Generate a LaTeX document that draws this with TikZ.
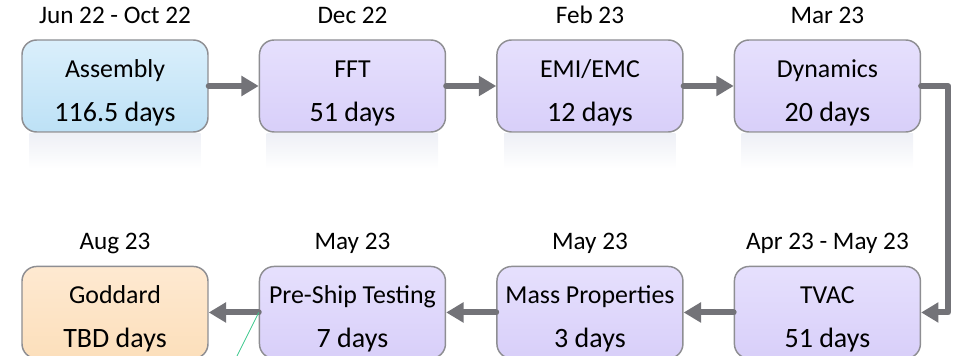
\documentclass[tikz,border=0pt]{standalone}
\usepackage{fontspec}
\setmainfont{Carlito}
\usetikzlibrary{positioning}
\usetikzlibrary{arrows.meta}
\definecolor{arrowgray}{HTML}{737378}
\definecolor{framegray}{HTML}{8E8E92}
\definecolor{bluetop}{HTML}{DAEFFB}
\definecolor{bluebot}{HTML}{BDE1F6}
\definecolor{violettop}{HTML}{E6E0FD}
\definecolor{violetbot}{HTML}{D8CFF9}
\definecolor{orangetop}{HTML}{FEE9D1}
\definecolor{orangebot}{HTML}{FCDFBB}
\definecolor{glowtop}{HTML}{EEF0F6}
\definecolor{stray}{HTML}{3CC88C}
\tikzset{
	stage/.style={
		rectangle,
		draw=framegray,
		line width=1.1pt,
		rounded corners=11pt,
		minimum width=139.5pt,
		minimum height=69pt,
		align=center,
		inner sep=0pt,
		font=\fontsize{19.4}{30}\selectfont
	},
	assembly/.style={stage, top color=bluetop, bottom color=bluebot},
	testing/.style={stage, top color=violettop, bottom color=violetbot},
	delivery/.style={stage, top color=orangetop, bottom color=orangebot},
	date/.style={anchor=base, inner sep=0pt, font=\fontsize{18.9}{20}\selectfont},
	flow/.style={draw=arrowgray, line width=4.5pt, line cap=round, line join=round, -{Triangle[length=13pt,width=14.5pt]}},
	glow/.style={top color=glowtop, bottom color=white, draw=none}
}
\newcommand{\stagetext}[2]{\rule{0pt}{23pt}#1\\[3pt]{\fontsize{21}{30}\selectfont #2}}
\begin{document}
\begin{tikzpicture}[node distance=99.75pt and 37.5pt]
	\useasboundingbox (-86.25pt,-202.5pt) rectangle (630.75pt,64.5pt);

	% top row
	\node[assembly] (Assembly) at (0,0) {\stagetext{Assembly}{116.5 days}};
	\node[testing, right=of Assembly] (FFT) {\stagetext{FFT}{51 days}};
	\node[testing, right=of FFT] (EMI) {\stagetext{EMI/EMC}{12 days}};
	\node[testing, right=of EMI] (Dynamics) {\stagetext{Dynamics}{20 days}};

	% bottom row
	\node[testing, below=of Dynamics] (TVAC) {\stagetext{TVAC}{51 days}};
	\node[testing, left=of TVAC] (Mass) {\stagetext{Mass Properties}{3 days}};
	\node[testing, left=of Mass] (PreShip) {\stagetext{Pre-Ship Testing}{7 days}};
	\node[delivery, left=of PreShip] (Goddard) {\stagetext{Goddard}{TBD days}};

	\foreach \n in {Assembly,FFT,EMI,Dynamics}
		\shade[glow] ([xshift=6pt,yshift=-0.6pt]\n.south west) rectangle ([xshift=-6pt,yshift=-27pt]\n.south east);

	% dates
	\node[date] (AssemblyDate) at ([yshift=11.8pt]Assembly.north) {Jun 22 - Oct 22};
	\node[date] (FFTDate) at ([yshift=11.8pt]FFT.north) {Dec 22};
	\node[date] (EMIDate) at ([yshift=11.8pt]EMI.north) {Feb 23};
	\node[date] (DynamicsDate) at ([yshift=11.8pt]Dynamics.north) {Mar 23};
	\node[date] (TVACDate) at ([yshift=11.8pt]TVAC.north) {Apr 23 - May 23};
	\node[date] (MassDate) at ([yshift=11.8pt]Mass.north) {May 23};
	\node[date] (PreShipDate) at ([yshift=11.8pt]PreShip.north) {May 23};
	\node[date] (GoddardDate) at ([yshift=11.8pt]Goddard.north) {Aug 23};

	% connectors
	\coordinate (turn) at ([xshift=20.25pt]Dynamics.east);
	\coordinate (strayend) at ([xshift=-16.5pt,yshift=-33pt]PreShip.west);
	\draw[flow] (Assembly.east) -- (FFT.west);
	\draw[flow] (FFT.east) -- (EMI.west);
	\draw[flow] (EMI.east) -- (Dynamics.west);
	\draw[flow] (Dynamics.east) -- (turn) |- (TVAC.east);
	\draw[flow] (TVAC.west) -- (Mass.east);
	\draw[flow] (Mass.west) -- (PreShip.east);
	\draw[flow] (PreShip.west) -- (Goddard.east);
	\draw[stray, line width=0.6pt] (PreShip.west) -- (strayend);
\end{tikzpicture}
\end{document}
